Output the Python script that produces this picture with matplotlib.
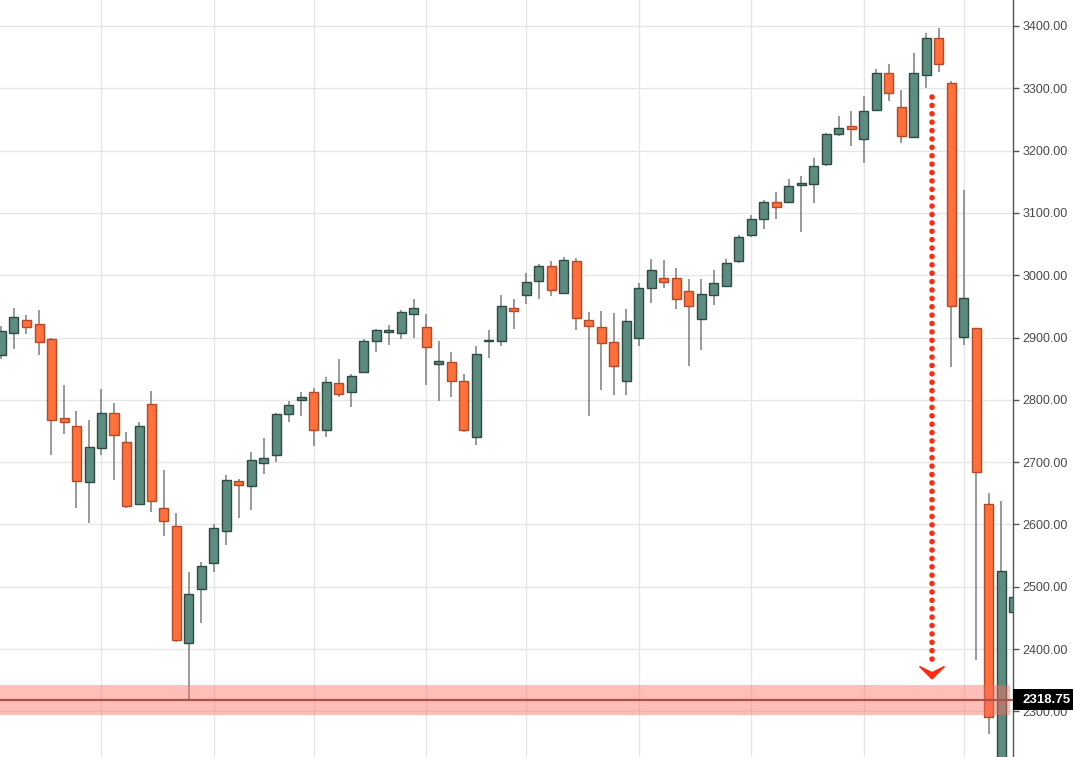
import matplotlib
matplotlib.use("Agg")
import matplotlib.pyplot as plt
from matplotlib.patches import Polygon, Rectangle

# Velas semanais (abertura, máxima, mínima, fechamento)
aberturas = [2872, 2908, 2928, 2921, 2897, 2771, 2758, 2668, 2723, 2779,
             2733, 2632, 2793, 2626, 2597, 2410, 2496, 2538, 2590, 2670,
             2661, 2699, 2711, 2777, 2799, 2813, 2751, 2827, 2813, 2844,
             2894, 2909, 2908, 2938, 2917, 2858, 2861, 2830, 2740, 2894,
             2895, 2947, 2969, 2990, 3015, 2972, 3022, 2928, 2917, 2893,
             2830, 2900, 2980, 2996, 2996, 2975, 2930, 2968, 2983, 3022,
             3064, 3090, 3118, 3118, 3145, 3146, 3178, 3226, 3239, 3219,
             3265, 3325, 3270, 3222, 3321, 3380, 3308, 2901, 2915, 2632,
             2190, 2460]
maximas = [2918, 2948, 2936, 2944, 2900, 2824, 2782, 2767, 2817, 2795,
           2748, 2765, 2814, 2688, 2618, 2524, 2540, 2600, 2679, 2673,
           2716, 2738, 2779, 2798, 2813, 2819, 2836, 2866, 2841, 2897,
           2914, 2920, 2944, 2961, 2938, 2894, 2876, 2842, 2886, 2912,
           2968, 2961, 3004, 3018, 3022, 3029, 3027, 2941, 2943, 2940,
           2945, 2987, 3026, 3025, 3012, 2994, 2994, 3008, 3026, 3064,
           3097, 3121, 3133, 3154, 3159, 3188, 3229, 3255, 3263, 3287,
           3331, 3339, 3297, 3357, 3388, 3396, 3311, 3137, 2915, 2651,
           2637, 2490]
minimas = [2866, 2881, 2906, 2872, 2712, 2745, 2627, 2603, 2712, 2671,
           2627, 2631, 2620, 2582, 2412, 2317, 2441, 2523, 2567, 2611,
           2623, 2681, 2700, 2764, 2774, 2726, 2741, 2804, 2788, 2844,
           2876, 2888, 2898, 2900, 2824, 2798, 2804, 2748, 2727, 2867,
           2886, 2913, 2954, 2962, 2967, 2972, 2912, 2774, 2816, 2808,
           2808, 2887, 2956, 2980, 2945, 2854, 2880, 2952, 2981, 3020,
           3062, 3074, 3090, 3116, 3069, 3116, 3176, 3224, 3207, 3180,
           3263, 3280, 3212, 3220, 3301, 3326, 2853, 2888, 2382, 2263,
           2170, 2455]
fechamentos = [2911, 2933, 2917, 2893, 2768, 2765, 2669, 2725, 2779, 2743,
               2629, 2758, 2637, 2605, 2414, 2488, 2534, 2595, 2672, 2664,
               2704, 2706, 2777, 2791, 2805, 2752, 2829, 2810, 2838, 2895,
               2912, 2911, 2941, 2947, 2885, 2862, 2830, 2752, 2874, 2896,
               2950, 2943, 2989, 3015, 2976, 3024, 2931, 2919, 2891, 2854,
               2926, 2980, 3008, 2989, 2962, 2950, 2970, 2987, 3020, 3062,
               3090, 3118, 3110, 3143, 3147, 3176, 3226, 3236, 3234, 3264,
               3325, 3292, 3224, 3325, 3381, 3339, 2951, 2964, 2684, 2291,
               2525, 2484]

# Inícios de mês (linhas verticais da grade)
inicios_mes = [8, 17, 25, 34, 42, 51, 60, 69, 77]
precos_eixo = [2300, 2400, 2500, 2600, 2700, 2800, 2900, 3000, 3100, 3200, 3300, 3400]

nivel_suporte = 2318.75
seta_x = 74.44
seta_topo = 3286
seta_ponta = 2352

cor_alta = "#5c8b7f"
cor_alta_borda = "#2e4a44"
cor_baixa = "#ff703a"
cor_baixa_borda = "#b4482a"
cor_seta = "#ff2a10"

y_min, y_max = 2226.7, 3441.7
larg_eixo = 1013 / 1073

fig = plt.figure(figsize=(10.73, 7.57), dpi=100)
ax = fig.add_axes([0, 0, larg_eixo, 1])

n = len(aberturas)
xs = list(range(n))

# Pavios
ax.vlines(xs, minimas, maximas, color="#7d7d7d", linewidth=1.1, zorder=2)

# Corpos
for i in xs:
    o, c = aberturas[i], fechamentos[i]
    alta = c >= o
    base = min(o, c)
    altura = max(abs(c - o), 2.5)
    ax.bar(i, altura, bottom=base, width=0.72,
           color=cor_alta if alta else cor_baixa,
           edgecolor=cor_alta_borda if alta else cor_baixa_borda,
           linewidth=1.0, zorder=3)

# Faixa de suporte
ax.axhspan(nivel_suporte - 25, nivel_suporte + 24, xmin=0, xmax=0.997,
           color="#ff6f61", alpha=0.45, linewidth=0, zorder=4)
ax.axhline(nivel_suporte, color="#a8544a", linewidth=1.6, zorder=5)

# Seta pontilhada
ax.plot([seta_x, seta_x], [seta_topo, seta_ponta + 24], color=cor_seta,
        linewidth=4.0, linestyle=(0, (0.01, 1.5)), dash_capstyle="round",
        zorder=6)
cabeca = Polygon([[seta_x, seta_ponta], [seta_x - 1.0, seta_ponta + 20],
                  [seta_x, seta_ponta + 10], [seta_x + 1.0, seta_ponta + 20]],
                 closed=True, color=cor_seta, zorder=6)
ax.add_patch(cabeca)

ax.set_xlim(-0.12, 80.92)
ax.set_ylim(y_min, y_max)

ax.set_xticks(inicios_mes)
ax.set_xticklabels([])
ax.tick_params(axis="x", length=0)
ax.set_yticks(precos_eixo)
ax.set_yticklabels([f"{p:.2f}" for p in precos_eixo])
ax.yaxis.tick_right()
ax.tick_params(axis="y", length=4, width=1, color="#555555", pad=3,
               labelsize=9, labelcolor="#4a4a4a")
for t in ax.get_yticklabels():
    t.set_fontfamily("Liberation Sans")

ax.grid(True, color="#e6e6e6", linewidth=1)
ax.set_axisbelow(True)
for lado in ["top", "left", "bottom"]:
    ax.spines[lado].set_visible(False)
ax.spines["right"].set_color("#555555")
ax.spines["right"].set_linewidth(1)

# Rótulo do preço atual
y_frac = (nivel_suporte - y_min) / (y_max - y_min)
alt_caixa = 21 / 757
fig.patches.append(Rectangle((larg_eixo, y_frac - alt_caixa / 2), 1 - larg_eixo, alt_caixa,
                             transform=fig.transFigure, facecolor="black",
                             edgecolor="none", zorder=9))
fig.text((1 + larg_eixo) / 2 + 0.003, y_frac, f"{nivel_suporte:.2f}", ha="center", va="center",
         color="white", fontsize=9.5, fontweight="bold", family="Liberation Sans",
         zorder=10)

fig.savefig("out.png", dpi=100)
